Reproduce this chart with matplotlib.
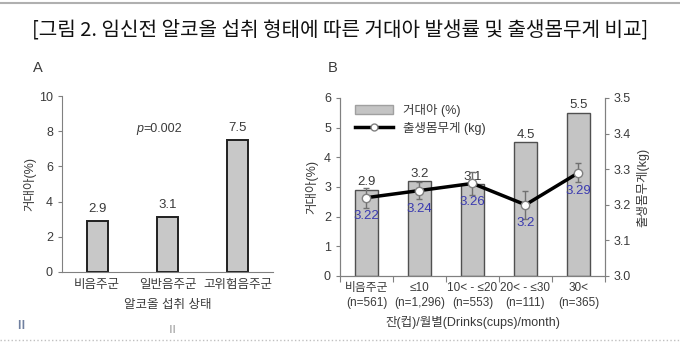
import matplotlib.pyplot as plt
from matplotlib.lines import Line2D
from matplotlib.patches import Patch
import numpy as np

plt.rcParams['font.family'] = ['Liberation Sans', 'Noto Sans CJK KR', 'DejaVu Sans']

# panel A
groups_a = ['비음주군', '일반음주군', '고위험음주군']
macro_a = [2.9, 3.1, 7.5]

# panel B
groups_b = ['비음주군\n(n=561)', '≤10\n(n=1,296)', '10< - ≤20\n(n=553)',
            '20< - ≤30\n(n=111)', '30<\n(n=365)']
macro_b = [2.9, 3.2, 3.1, 4.5, 5.5]
weight = [3.22, 3.24, 3.26, 3.2, 3.29]
weight_err = [0.028, 0.024, 0.033, 0.04, 0.027]

axis_col = '#808080'
text_col = '#3a3a3a'

fig = plt.figure(figsize=(6.8, 3.45), dpi=100)
fig.text(0.5, 0.912, '[그림 2. 임신전 알코올 섭취 형태에 따른 거대아 발생률 및 출생몸무게 비교]',
         ha='center', va='center', fontsize=14.5, color='#111111',
         family=['Noto Sans CJK KR'], fontweight='medium')
fig.add_artist(Line2D([0, 1], [0.992, 0.992], color='#b0b0b0', lw=1.5))
fig.add_artist(Line2D([0, 1], [0.015, 0.015], color='#c0c0c0', lw=1, ls=':'))

# ---- A ----
axA = fig.add_axes([0.0912, 0.2116, 0.310, 0.510])
xa = np.arange(len(groups_a))
axA.bar(xa, macro_a, width=0.3, color='#c8c8c8', edgecolor='#202020', linewidth=1.4)
for x, v in zip(xa, macro_a):
    axA.text(x, v + 0.35, f'{v}', ha='center', va='bottom', fontsize=9.5, color=text_col)
axA.set_xlim(-0.5, 2.5)
axA.set_ylim(0, 10)
axA.set_yticks(range(0, 11, 2))
axA.set_xticks(xa)
axA.set_xticklabels(groups_a, fontsize=9, color=text_col)
axA.tick_params(axis='x', length=0, pad=5)
axA.tick_params(axis='y', colors=axis_col, labelcolor=text_col, labelsize=9, length=3)
for s in ['top', 'right']:
    axA.spines[s].set_visible(False)
for s in ['left', 'bottom']:
    axA.spines[s].set_color(axis_col)
axA.set_xlabel('알코올 섭취 상태', fontsize=9, color=text_col, labelpad=6)
axA.set_ylabel('거대아(%)', fontsize=9, color=text_col, labelpad=2)
axA.text(0.66, 8.1, 'p', style='italic', ha='right', va='center', fontsize=9, color=text_col)
axA.text(0.66, 8.1, '=0.002', ha='left', va='center', fontsize=9, color=text_col)
fig.text(0.049, 0.803, 'A', fontsize=10.5, color=text_col, va='center')

# ---- B ----
axB = fig.add_axes([0.5, 0.2, 0.3897, 0.516])
xb = np.arange(len(groups_b))
axB.bar(xb, macro_b, width=0.42, color='#c4c4c4', edgecolor='#505050', linewidth=1.0)
for x, v in zip(xb, macro_b):
    axB.text(x, v + 0.05, f'{v}', ha='center', va='bottom', fontsize=9.5, color=text_col)
axB.set_xlim(-0.5, 4.5)
axB.set_ylim(0, 6)
axB.set_yticks(range(0, 7))
axB.set_xticks(np.arange(-0.5, 5, 1))
axB.set_xticklabels([])
axB.set_xticks(xb, minor=True)
axB.set_xticklabels(groups_b, minor=True, fontsize=8.5, color=text_col, linespacing=1.35)
axB.tick_params(axis='x', which='minor', length=0, pad=4)
axB.tick_params(axis='x', which='major', colors=axis_col, length=4)
axB.tick_params(axis='y', colors=axis_col, labelcolor=text_col, labelsize=9, length=3)
axB.spines['top'].set_visible(False)
for s in ['left', 'bottom', 'right']:
    axB.spines[s].set_color(axis_col)
axB.set_ylabel('거대아(%)', fontsize=9, color=text_col, labelpad=4)
axB.set_xlabel('잔(컵)/월별(Drinks(cups)/month)', fontsize=9, color=text_col, labelpad=5)

axR = axB.twinx()
axR.errorbar(xb, weight, yerr=weight_err, fmt='none', ecolor='#707070', elinewidth=1,
             capsize=2.5, capthick=1, zorder=3)
axR.plot(xb, weight, color='black', lw=2.5, zorder=4)
axR.plot(xb, weight, 'o', ms=6, mfc='white', mec='#808080', mew=1, zorder=5)
for x, v in zip(xb, weight):
    axR.text(x, v - 0.035, f'{v}', ha='center', va='top', fontsize=9.5, color='#3a3ab0')
axR.set_ylim(3.0, 3.5)
axR.set_yticks(np.arange(3.0, 3.51, 0.1))
axR.set_yticklabels([f'{t:.1f}' for t in np.arange(3.0, 3.51, 0.1)])
axR.tick_params(axis='y', colors=axis_col, labelcolor=text_col, labelsize=9, length=3)
axR.spines['top'].set_visible(False)
for s in ['left', 'bottom', 'right']:
    axR.spines[s].set_color(axis_col)
axR.set_ylabel('출생몸무게(kg)', fontsize=9, color=text_col, rotation=90, labelpad=4)

handles = [Patch(facecolor='#c4c4c4', edgecolor='#a0a0a0'),
           Line2D([0], [0], color='black', lw=2.5, marker='o', ms=5, mfc='white', mec='#808080')]
axR.legend(handles, ['거대아 (%)', '출생몸무게 (kg)'], loc='upper left', frameon=False,
           fontsize=9, handlelength=3, borderaxespad=0.2, labelspacing=0.4,
           bbox_to_anchor=(0.03, 1.01), labelcolor=text_col)
fig.text(0.482, 0.803, 'B', fontsize=10.5, color=text_col, va='center')

fig.text(0.022, 0.045, 'Ⅱ', fontsize=8, color='#7080a0', fontweight='bold')
fig.text(0.245, 0.035, 'Ⅱ', fontsize=8, color='#909090')

fig.savefig('out.png', dpi=100)
